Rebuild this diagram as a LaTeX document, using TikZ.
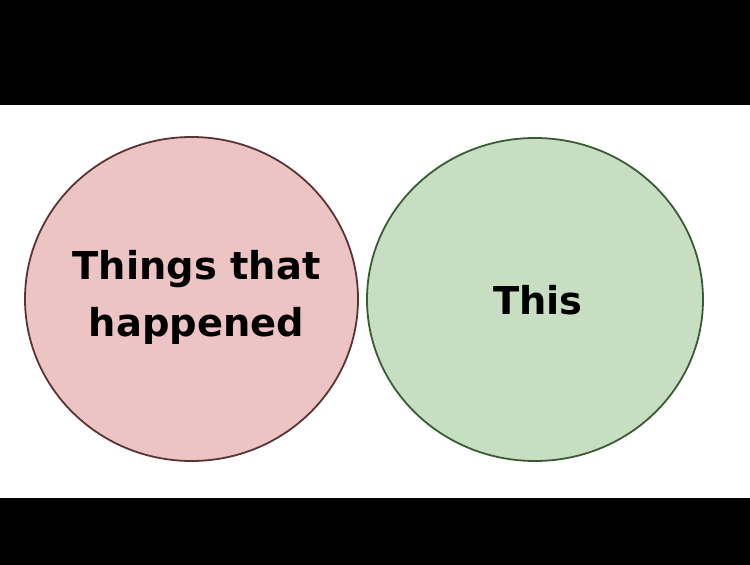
\documentclass[tikz,border=0pt]{standalone}
\usepackage{fontspec}
\newfontfamily\vennfont{DejaVu Sans}
\usetikzlibrary{shapes.geometric}
\definecolor{pinkfill}{RGB}{236,196,196}
\definecolor{pinkline}{RGB}{90,52,52}
\definecolor{greenfill}{RGB}{199,222,194}
\definecolor{greenline}{RGB}{58,92,52}
\begin{document}
\begin{tikzpicture}[x=1pt,y=1pt]

    % Styles
    \tikzstyle{venn} = [ellipse, inner sep=0pt, line width=1.8pt]
    \tikzstyle{setname} = [inner sep=0pt, align=center, font=\vennfont\bfseries\fontsize{38.4}{57}\selectfont]
    \tikzstyle{pinkset} = [venn, minimum width=333pt, minimum height=324pt, draw=pinkline, fill=pinkfill]
    \tikzstyle{greenset} = [venn, minimum width=336pt, minimum height=323pt, draw=greenline, fill=greenfill]

    % Fond
    \fill[black] (0,0) rectangle (750,565);
    \fill[white] (0,67) rectangle (750,460);

    % Noeuds
    \node (happened) [pinkset, label={[setname, xshift=5pt, yshift=2pt]center:Things that\\happened}] at (191.5,266) {};
    \node (this) [greenset, label={[setname, xshift=3pt, yshift=-1pt]center:This}] at (535,265.5) {};

\end{tikzpicture}
\end{document}
